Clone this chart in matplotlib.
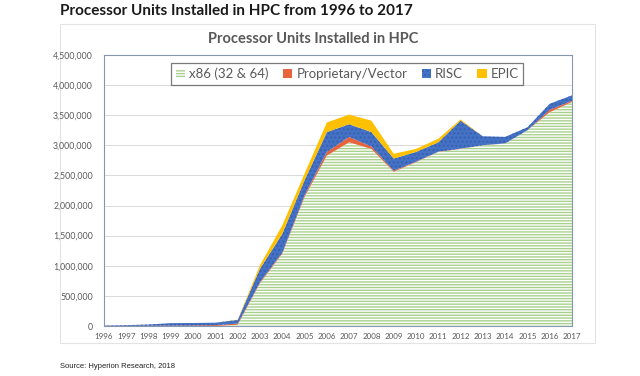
import matplotlib.pyplot as plt
import matplotlib.patches as mpatches
from matplotlib.ticker import FuncFormatter

years = list(range(1996, 2018))

# stacked layers, bottom to top
x86 = [0, 0, 0, 0, 0, 0, 20000, 710000, 1200000, 2140000, 2830000,
       3050000, 2940000, 2560000, 2720000, 2890000, 2940000, 3000000,
       3030000, 3250000, 3550000, 3720000]
proprietary = [3000, 4000, 6000, 8000, 10000, 15000, 20000, 20000, 20000,
               30000, 60000, 90000, 40000, 20000, 10000, 5000, 5000, 3000,
               3000, 2000, 40000, 20000]
risc = [5000, 10000, 18000, 40000, 40000, 40000, 60000, 220000, 310000,
        250000, 330000, 210000, 240000, 200000, 160000, 155000, 465000,
        147000, 107000, 48000, 100000, 90000]
epic = [0, 0, 0, 0, 0, 0, 5000, 60000, 140000, 110000, 160000, 160000,
        190000, 80000, 50000, 60000, 20000, 0, 0, 0, 0, 0]

labels = ['x86 (32 & 64)', 'Proprietary/Vector', 'RISC', 'EPIC']

plt.rcParams['font.family'] = ['Lato', 'DejaVu Sans']
plt.rcParams['hatch.linewidth'] = 1.0

fig = plt.figure(figsize=(6.4, 3.76), dpi=100)
fig.patch.set_facecolor('white')

# outer chart panel
fig.add_artist(mpatches.Rectangle((60 / 640, 1 - 343 / 376), 535 / 640, 319 / 376,
                                  transform=fig.transFigure, facecolor='white',
                                  edgecolor='#e3e3e3', linewidth=0.8, zorder=0))

ax = fig.add_axes([104 / 640, 1 - 326 / 376, 468 / 640, 271 / 376])

polys = ax.stackplot(years, x86, proprietary, risc, epic,
                     colors=['white', '#e8643c', '#4472c4', '#ffc000'],
                     labels=labels, linewidth=0)
polys[0].set_hatch('------')
polys[0].set_edgecolor('#a9d18e')
polys[2].set_hatch('....')
polys[2].set_edgecolor('#3a5fb0')

ax.set_xlim(1996, 2017)
ax.set_ylim(0, 4500000)
ax.set_xticks(years)
ax.set_xticklabels([str(y) for y in years], fontsize=5.8, color='#595959')
ax.set_yticks(range(0, 4500001, 500000))
ax.yaxis.set_major_formatter(FuncFormatter(lambda v, p: f'{int(v):,}'))
ax.tick_params(axis='y', labelsize=6.3, colors='#595959', length=0, pad=8)
ax.tick_params(axis='x', length=0, pad=5)
ax.grid(True, axis='y', color='#d9d9d9', linewidth=0.7)
ax.set_axisbelow(True)
for s in ax.spines.values():
    s.set_color('#8497b0')
    s.set_linewidth(0.8)

leg = ax.legend(loc='upper center', ncol=4, fontsize=9.5, frameon=True,
                fancybox=False, edgecolor='#595959', handlelength=0.7,
                handleheight=0.7, handletextpad=0.3, columnspacing=1.1,
                bbox_to_anchor=(0.52, 0.995), borderpad=0.35)
leg.get_frame().set_linewidth(0.9)
for t in leg.get_texts():
    t.set_color('#595959')

fig.text(0.49, 1 - 39 / 376, 'Processor Units Installed in HPC', ha='center',
         va='center', fontsize=10.5, fontweight='bold', color='#595959')
fig.text(60 / 640, 1 - 11 / 376, 'Processor Units Installed in HPC from 1996 to 2017',
         ha='left', va='center', fontsize=11, fontweight='bold', color='#1a1a1a')
fig.text(60 / 640, 1 - 366 / 376, 'Source: Hyperion Research, 2018', ha='left',
         va='center', fontsize=5.5, color='#222222', family='Liberation Sans')

fig.savefig('out.png', dpi=100)
